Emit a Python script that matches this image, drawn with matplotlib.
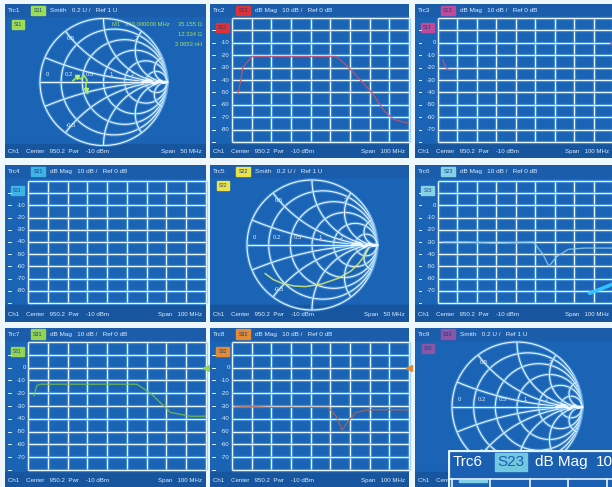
import numpy as np
import matplotlib
matplotlib.use('Agg')
import matplotlib.pyplot as plt
from matplotlib.patches import Rectangle

plt.rcParams['font.family'] = ['Liberation Sans', 'DejaVu Sans']

# traces laid out like the S-matrix, row by row
params = ['S11', 'S12', 'S13', 'S21', 'S22', 'S23', 'S31', 'S32', 'S33']
formats = ['Smith', 'dB Mag', 'dB Mag', 'dB Mag', 'Smith', 'dB Mag', 'dB Mag', 'dB Mag', 'Smith']
badge_colors = ['#9fdc55', '#d8343a', '#c24a98', '#3fb2e6', '#ece24a', '#86d2e4', '#95d452', '#e58a34', '#8c56a8']
spans = [50, 100, 100, 100, 50, 100, 100, 100, 50]
ref_top = [None, 10, 20, 10, None, 20, 20, 20, None]   # dB value of the top grid line

# dB Mag traces, x in grid divisions
s12_x = [0.3, 0.45, 0.55, 1.0, 3.0, 5.3, 5.8, 6.3, 7.1, 7.8, 8.25, 9.0]
s12_db = [-51, -40, -30, -21, -21, -21, -28, -36, -50, -66, -72, -75]
s13_x = [0.25, 0.4, 0.6]
s13_db = [-14, -20, -22]
s23_x = [0.25, 1.5, 3.0, 4.9, 5.4, 5.7, 6.1, 6.7, 7.5, 9.0]
s23_db = [-30, -30, -31, -30, -40, -50, -42, -36, -35, -35]
s23_hl_x = [7.8, 9.0]
s23_hl_db = [-72, -64.5]
s31_x = [0.3, 0.45, 0.6, 3.0, 5.5, 6.2, 7.2, 8.2, 9.0]
s31_db = [-22, -14, -13, -13, -13, -20, -35, -38, -38]
s32_x = [0.15, 2.0, 4.9, 5.3, 5.6, 5.9, 6.3, 6.9, 9.0]
s32_db = [-30, -31, -31, -38, -49, -42, -35, -33, -33]
marker_db = 0

# Smith traces (reflection coefficient)
s11_re = [-0.48, -0.42, -0.36, -0.30, -0.26, -0.28, -0.27, -0.25]
s11_im = [0.02, 0.08, 0.05, 0.10, 0.03, -0.05, -0.12, -0.18]
s11_mkr_re = [-0.42, -0.27]
s11_mkr_im = [0.08, -0.12]
s22_re = [-0.72, -0.60, -0.46, -0.28, -0.10, 0.15, 0.41, 0.60, 0.72, 0.82, 0.87]
s22_im = [-0.44, -0.53, -0.59, -0.63, -0.64, -0.60, -0.51, -0.40, -0.28, -0.15, -0.05]
glare_re = [0.62, 0.72, 0.80, 0.88, 0.94, 1.0]
glare_im = [0.0, 0.03, -0.03, 0.02, -0.01, 0.0]
smith_r = [0.2, 0.5, 1, 2, 5]
smith_x = [0.2, 0.5, 1, 2, 5]
r_labels = [0.2, 0.5, 1, 2]
x_labels = [0.5, 2, -0.5]
m1_lines = ['M1   950.000000 MHz     35.155 \u03a9', '12.334 \u03a9', '2.0653 nH']

W, H = 612, 487
BLUE = '#1a63b5'
TXT = '#dcefff'
cols = [(5, 206, 28), (210, 409, 232), (415, 613, 438)]          # left, right, grid left
rows = [(4, 158, 18, 142), (165, 322, 181, 303), (328, 488, 342, 470)]  # top, bottom, grid top, grid bottom
smith_geom = {0: (103.5, 82, 63.5), 4: (312, 245, 65), 8: (517, 407, 65)}
db_traces = {1: (s12_x, s12_db, '#c9506e'), 2: (s13_x, s13_db, '#b85a9c'),
             5: (s23_x, s23_db, '#8cc8e8'), 6: (s31_x, s31_db, '#74bc4e'),
             7: (s32_x, s32_db, '#b06450')}


def rect(x0, y0, x1, y1):
    return [x0 / W, 1 - y1 / H, (x1 - x0) / W, (y1 - y0) / H]


def glow(ax, x, y, lw=0.8, clip=True):
    ax.plot(x, y, color='#5ea9ec', lw=lw + 1.6, alpha=0.5, clip_on=clip, solid_capstyle='butt')
    ax.plot(x, y, color='#e9f7ff', lw=lw, clip_on=clip, solid_capstyle='butt')


def smith_grid(ax):
    t = np.linspace(0, 2 * np.pi, 361)
    glow(ax, np.cos(t), np.sin(t), clip=False)
    for r in smith_r:
        c, rad = r / (1 + r), 1 / (1 + r)
        glow(ax, c + rad * np.cos(t), rad * np.sin(t), clip=False)
    rr = np.concatenate([[0], np.logspace(-3, 3, 300)])
    for xv in smith_x:
        for s in (1, -1):
            g = (rr + 1j * s * xv - 1) / (rr + 1j * s * xv + 1)
            glow(ax, g.real, g.imag, clip=False)
    glow(ax, [-1, 1], [0, 0], clip=False)
    kw = dict(fontsize=4.3, color=TXT, ha='center', va='center')
    ax.text(-0.88, 0.12, '0', **kw)
    for r in r_labels:
        ax.text((r - 1) / (r + 1) + 0.12, 0.12, f'{r:g}', **kw)
    for xv in x_labels:
        g = (1j * xv - 1) / (1j * xv + 1)
        ax.text(0.85 * g.real, 0.85 * g.imag, f'{xv:g}', **kw)
    ax.plot(glare_re, glare_im, color='white', lw=2.2, alpha=0.85)


fig = plt.figure(figsize=(W / 100, H / 100), dpi=100)
fig.patch.set_facecolor('#eef7fc')

for i in range(9):
    top, bottom, gt, gb = rows[i // 3]
    left, right, gl = cols[i % 3]
    ax = fig.add_axes(rect(left, top, right, bottom))
    ax.set_xlim(left, right)
    ax.set_ylim(bottom, top)
    ax.axis('off')
    ax.add_patch(Rectangle((left, top), right - left, bottom - top, color=BLUE))
    ax.add_patch(Rectangle((left, top), right - left, 12, color='#1b5cab'))
    ax.add_patch(Rectangle((left, gb + 2), right - left, bottom - gb - 2, color='#17559f'))

    # header
    hy = top + 6.5
    ax.text(left + 3, hy, f'Trc{i + 1}', fontsize=4.6, color=TXT, va='center')
    ax.add_patch(Rectangle((left + 26, top + 1.5), 14, 9.5, color=badge_colors[i]))
    ax.text(left + 33, hy, params[i], fontsize=3.8, color='#123f86', ha='center', va='center')
    if formats[i] == 'Smith':
        head = 'Smith   0.2 U /   Ref 1 U'
    else:
        head = 'dB Mag   10 dB /   Ref 0 dB'
    ax.text(left + 45, hy, head, fontsize=4.6, color=TXT, va='center')

    # footer
    fy = gb + 0.6 * (bottom - gb)
    ax.text(left + 3, fy, 'Ch1    Center   950.2  Pwr    -10 dBm', fontsize=4.4, color=TXT, va='center')
    ax.text(right - 4, fy, f'Span   {spans[i]} MHz', fontsize=4.4, color=TXT, va='center', ha='right')

    if formats[i] == 'Smith':
        ax.add_patch(Rectangle((left + 7, top + 16), 12, 9, color=badge_colors[i]))
        ax.text(left + 13, top + 20.5, params[i], fontsize=3.4, color='#123f86', ha='center', va='center')
        cx, cy, r = smith_geom[i]
        sax = fig.add_axes(rect(cx - 1.12 * r, cy - 1.12 * r, cx + 1.12 * r, cy + 1.12 * r))
        sax.set_xlim(-1.12, 1.12)
        sax.set_ylim(-1.12, 1.12)
        sax.axis('off')
        sax.patch.set_alpha(0)
        smith_grid(sax)
        if i == 0:
            sax.plot(s11_re, s11_im, color='#9fe25a', lw=1.3)
            sax.plot(s11_mkr_re, s11_mkr_im, 'v', color='#b8f070', ms=3)
            for k, line in enumerate(m1_lines):
                ax.text(right - 4, top + 21 + 10 * k, line, fontsize=4.2, color='#a8e060',
                        ha='right', va='center')
        if i == 4:
            sax.plot(s22_re, s22_im, color='#cfe878', lw=1.1, alpha=0.9)
        continue

    # dB Mag grid
    t0 = ref_top[i]
    gax = fig.add_axes(rect(gl, gt, right, gb))
    gax.set_xlim(0, 9)
    gax.set_ylim(t0 - 100, t0)
    gax.axis('off')
    gax.patch.set_alpha(0)
    for k in range(10):
        glow(gax, [k, k], [t0 - 100, t0], clip=False)
    for k in range(11):
        v = t0 - 10 * k
        glow(gax, [0, 9], [v, v], clip=False)
        if k >= 1:
            gax.plot([-1.0, -0.85], [v, v], color=TXT, lw=0.7, clip_on=False)
        if 2 <= k <= 9:
            gax.text(-0.12, v, f'{v:g}', fontsize=4.3, color=TXT, ha='right', va='center')
    y1 = gt + (gb - gt) / 10
    ax.add_patch(Rectangle((left + 6, y1 - 7.5), 13, 9, color=badge_colors[i]))
    ax.text(left + 12.5, y1 - 3, params[i], fontsize=3.4, color='#123f86', ha='center', va='center')

    if i in db_traces:
        tx, ty, tc = db_traces[i]
        gax.plot(tx, ty, color=tc, lw=1.0, alpha=0.85)
    if i == 5:
        gax.plot(s23_hl_x, s23_hl_db, color='#34c2ff', lw=2.6, solid_capstyle='round')
    if i in (2, 6, 7):
        gax.plot([9], [marker_db], '<', color=badge_colors[i], ms=4, clip_on=False)

# trace info box overlapping the bottom-right panel
iax = fig.add_axes(rect(448, 450, 613, 488))
iax.set_xlim(448, 613)
iax.set_ylim(488, 450)
iax.axis('off')
iax.add_patch(Rectangle((448, 450), 165, 38, color='#1b5fb3'))
iax.plot([448.8, 448.8, 613], [488, 450.8, 450.8], color='#e6f4ff', lw=1.6)
iax.text(453, 461.5, 'Trc6', fontsize=11, color='white', va='center')
iax.add_patch(Rectangle((495, 452.5), 32, 18.5, color='#72c9df'))
iax.text(511, 461.5, 'S23', fontsize=11, color='#1b5fb3', ha='center', va='center')
iax.text(535, 461.5, 'dB Mag', fontsize=11, color='white', va='center')
iax.text(596, 461.5, '10', fontsize=11, color='white', va='center')
iax.plot([448, 613], [479, 479], color='#e6f4ff', lw=1.2)
for xv in [452, 490, 530, 568, 607]:
    iax.plot([xv, xv], [479, 488], color='#e6f4ff', lw=1.2)
iax.add_patch(Rectangle((459, 479.6), 28, 2.4, color='#7fd0e8'))

fig.savefig('out.png', dpi=100, facecolor=fig.get_facecolor())
